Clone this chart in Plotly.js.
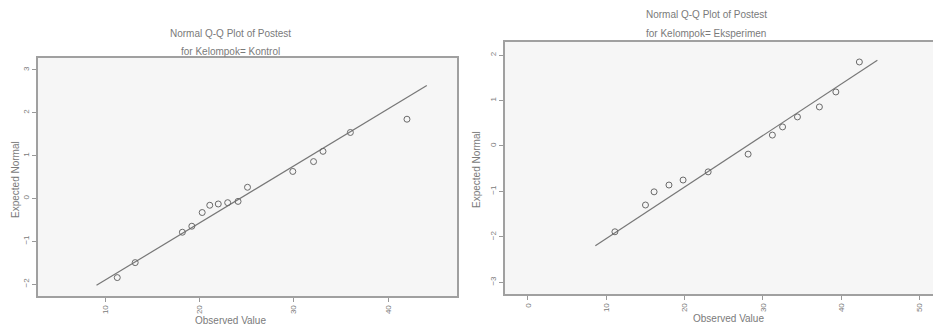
<!DOCTYPE html>
<html>
<head>
<meta charset="utf-8">
<script src="https://cdn.plot.ly/plotly-3.0.1.min.js"></script>
<style>html,body{margin:0;padding:0;background:#fff;}#chart{width:933px;height:327px;}</style>
</head>
<body>
<div id="chart"></div>
<script>
// Left panel: Kelompok = Kontrol
const kontrolObserved = [11.3, 13.2, 18.2, 19.2, 20.3, 21.1, 22.0, 23.0, 24.1, 25.1, 29.9, 32.1, 33.1, 36.0, 42.0];
const kontrolExpected = [-1.85, -1.50, -0.79, -0.65, -0.33, -0.16, -0.13, -0.10, -0.07, 0.26, 0.63, 0.86, 1.10, 1.54, 1.85];
const kontrolLineX = [9.1, 44.1];
const kontrolLineY = [-2.03, 2.64];

// Right panel: Kelompok = Eksperimen
const eksperimenObserved = [11.1, 15.0, 16.1, 18.0, 19.8, 23.0, 28.1, 31.2, 32.5, 34.4, 37.2, 39.3, 42.3];
const eksperimenExpected = [-1.89, -1.30, -1.01, -0.86, -0.75, -0.57, -0.18, 0.24, 0.42, 0.64, 0.86, 1.19, 1.85];
const eksperimenLineX = [8.6, 44.6];
const eksperimenLineY = [-2.20, 1.89];

const leftXTicks = [10, 20, 30, 40];
const leftYTicks = [-2, -1, 0, 1, 2, 3];
const rightXTicks = [0, 10, 20, 30, 40, 50];
const rightYTicks = [-3, -2, -1, 0, 1, 2];

const titleLeft = ["Normal Q-Q Plot of Postest", "for Kelompok= Kontrol"];
const titleRight = ["Normal Q-Q Plot of Postest", "for Kelompok= Eksperimen"];
const xLabel = "Observed Value";
const yLabel = "Expected Normal";

const ink = "#7a7a7a";
const markerStyle = {symbol: "circle-open", size: 6, color: "#6a6a6a", line: {width: 1, color: "#6a6a6a"}};
const lineStyle = {color: "#777", width: 1.2};

const traces = [
  {x: kontrolLineX, y: kontrolLineY, mode: "lines", line: lineStyle, xaxis: "x", yaxis: "y", hoverinfo: "skip"},
  {x: kontrolObserved, y: kontrolExpected, mode: "markers", marker: markerStyle, xaxis: "x", yaxis: "y"},
  {x: eksperimenLineX, y: eksperimenLineY, mode: "lines", line: lineStyle, xaxis: "x2", yaxis: "y2", hoverinfo: "skip"},
  {x: eksperimenObserved, y: eksperimenExpected, mode: "markers", marker: markerStyle, xaxis: "x2", yaxis: "y2"}
];

const axisBase = {
  showgrid: false, zeroline: false, showline: true, mirror: true,
  linecolor: "#a0a0a0", linewidth: 2, ticks: "outside", ticklen: 4,
  tickcolor: "#999", tickfont: {family: "Liberation Sans, Arial, sans-serif", size: 8, color: ink},
  tickangle: -90
};

const W = 933, H = 327;
const layout = {
  width: W, height: H,
  margin: {l: 0, r: 0, t: 0, b: 0},
  paper_bgcolor: "#ffffff",
  plot_bgcolor: "#f6f6f6",
  showlegend: false,
  xaxis: Object.assign({}, axisBase, {domain: [38 / W, 457 / W], range: [2.9, 47.3], tickvals: leftXTicks, anchor: "y"}),
  yaxis: Object.assign({}, axisBase, {domain: [1 - 296 / H, 1 - 58 / H], range: [-2.28, 3.28], tickvals: leftYTicks, anchor: "x"}),
  xaxis2: Object.assign({}, axisBase, {domain: [505 / W, 1], range: [-2.93, 51.7], tickvals: rightXTicks, anchor: "y2"}),
  yaxis2: Object.assign({}, axisBase, {domain: [1 - 294 / H, 1 - 42 / H], range: [-3.26, 2.29], tickvals: rightYTicks, anchor: "x2"}),
  annotations: []
};

function note(text, px, py, angle, size) {
  layout.annotations.push({
    text: text, xref: "paper", yref: "paper", x: px / W, y: 1 - py / H,
    xanchor: "center", yanchor: "middle", showarrow: false, textangle: angle || 0,
    font: {family: "Liberation Sans, Arial, sans-serif", size: size || 10, color: ink}
  });
}
note(titleLeft[0], 230, 34, 0, 10);
note(titleLeft[1], 230, 52, 0, 10);
note(titleRight[0], 706, 15, 0, 10);
note(titleRight[1], 706, 34, 0, 10);
note(xLabel, 230, 320, 0, 10);
note(xLabel, 728, 318, 0, 10);
note(yLabel, 15, 180, -90, 10);
note(yLabel, 477, 170, -90, 10);

Plotly.newPlot("chart", traces, layout, {displayModeBar: false, staticPlot: true});
</script>
</body>
</html>
